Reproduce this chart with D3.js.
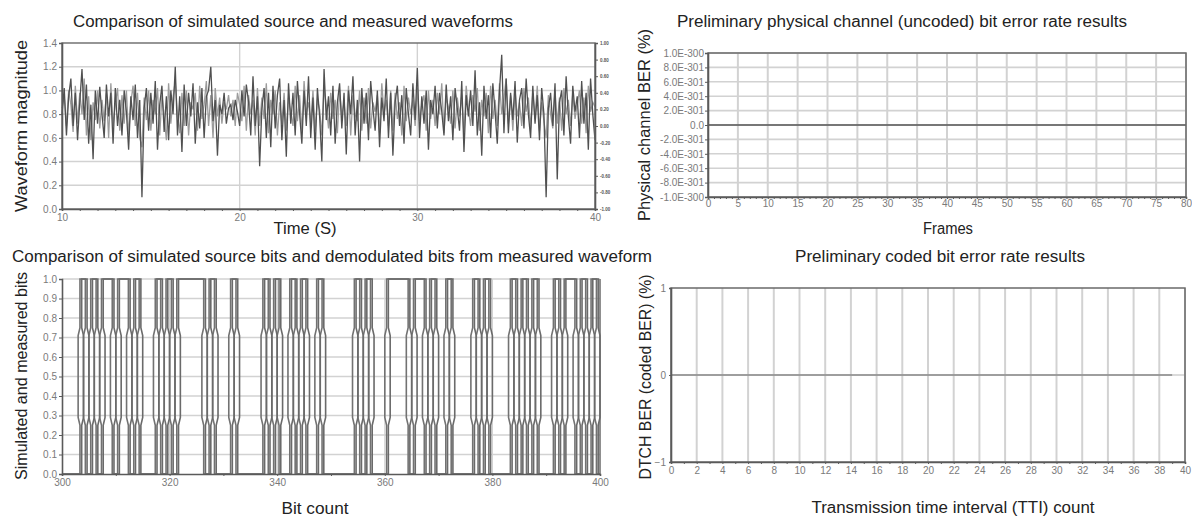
<!DOCTYPE html>
<html><head><meta charset="utf-8">
<script src="https://cdn.jsdelivr.net/npm/d3@7"></script>
<style>
body{margin:0;background:#fff;}
svg text{font-family:"Liberation Sans",Arial,sans-serif;}
</style></head><body><svg id="c" width="1192" height="519"></svg>
<script>
// ---------- data ----------
const waveStart = 10, waveStep = 0.125;
const measuredWave = [
0.80,1.02,0.62,0.95,1.10,0.70,0.98,0.58,
0.90,1.18,0.75,1.05,0.55,0.88,0.42,1.00,
0.72,1.03,0.80,0.60,1.05,0.78,0.98,0.55,
1.02,0.70,0.92,0.62,1.00,0.82,0.50,0.95,
0.75,1.05,0.60,0.92,0.10,0.85,1.02,0.66,
0.98,0.72,1.08,0.50,0.88,1.04,0.65,0.95,
0.58,1.00,0.80,1.20,0.62,0.95,0.48,1.05,
0.70,0.98,0.78,1.06,0.55,0.90,0.68,1.02,
0.60,0.95,1.00,1.20,0.74,0.92,0.45,0.88,
0.80,0.98,0.72,0.85,0.88,0.75,0.92,0.82,
0.70,1.00,0.78,1.05,0.90,0.62,1.12,0.70,
0.95,0.36,0.85,1.02,0.60,0.98,0.52,1.04,
0.68,0.96,1.10,0.58,0.92,0.44,1.06,0.72,
0.98,0.62,1.08,0.80,0.55,1.00,0.70,1.12,
0.60,0.94,0.50,1.02,0.78,0.40,1.18,0.75,
0.95,0.62,1.04,0.55,0.90,1.06,0.68,0.98,
0.46,1.00,0.80,1.12,0.62,0.92,0.40,1.02,
0.72,0.98,0.58,1.08,0.85,0.66,1.00,0.52,
0.94,0.74,1.10,0.60,0.98,0.45,0.90,1.04,
0.70,0.96,0.55,1.02,0.80,0.62,1.06,0.75,
1.19,0.60,0.95,0.72,1.00,0.50,0.92,0.80,
1.04,0.68,0.98,0.82,0.62,1.05,0.74,0.95,
0.58,1.02,0.85,0.66,1.08,0.48,0.96,0.78,
1.00,0.70,1.17,0.62,0.90,0.45,1.04,0.76,
0.96,0.60,1.06,0.82,0.55,1.00,1.30,0.64,
1.10,0.64,0.98,0.75,1.08,0.56,0.92,1.02,
0.68,1.10,0.80,0.60,1.04,0.72,0.96,0.58,
1.02,0.80,0.10,0.85,0.98,0.70,1.06,0.25,
0.90,1.00,0.62,1.12,0.78,0.55,1.04,0.82,
0.95,0.60,1.08,0.72,0.98,0.50,1.10,0.80,
0.58];
const simulatedWave = [
0.85,0.95,0.70,1.00,0.88,0.65,1.04,0.72,
0.98,0.80,1.10,0.62,0.95,0.58,0.90,0.75,
1.00,0.68,0.92,0.74,0.98,0.60,1.06,0.70,
0.88,1.02,0.66,0.96,0.72,1.00,0.62,0.90,
1.04,0.70,0.98,0.60,0.52,0.94,0.75,1.00,
0.66,0.92,0.80,1.02,0.62,0.96,0.78,0.58,
1.06,0.72,0.94,1.08,0.80,0.64,0.98,0.70,
1.00,0.62,0.90,0.84,0.98,0.66,1.04,0.76,
0.88,1.08,0.70,0.96,0.60,1.02,0.78,0.94,
0.72,0.90,0.84,0.96,0.78,0.92,0.70,0.98,
0.88,0.74,1.04,0.66,0.96,0.80,0.92,0.62,
1.02,0.70,0.94,0.76,1.06,0.64,0.92,0.80,
1.00,0.62,0.90,0.72,0.98,0.66,0.94,0.82,
0.70,1.04,0.74,0.96,0.64,1.08,0.80,0.90,
0.72,1.00,0.66,0.92,0.84,0.62,1.02,0.88,
0.68,0.98,0.76,0.92,0.64,1.00,0.78,0.90,
0.70,1.04,0.62,0.96,0.80,0.74,1.00,0.66,
0.94,0.72,1.02,0.68,0.90,0.82,0.96,0.64,
1.06,0.80,0.92,0.70,1.00,0.66,0.98,0.76,
0.90,0.62,1.04,0.74,0.94,0.80,0.92,0.70,
1.02,0.74,0.88,0.96,0.66,1.00,0.76,0.92,
0.70,0.98,0.80,1.06,0.64,0.94,0.86,0.72,
1.00,0.68,0.94,0.78,0.96,0.62,1.04,0.84,
0.70,0.96,0.82,1.02,0.66,0.92,0.78,0.98,
0.64,1.04,0.76,0.92,0.70,1.06,0.80,0.94,
1.10,0.72,0.96,0.66,1.00,0.78,0.90,0.70,
1.02,0.82,0.94,0.68,0.98,0.76,1.04,0.66,
0.90,0.74,0.60,0.96,0.80,0.68,1.00,0.72,
0.94,0.66,1.02,0.80,0.92,0.70,0.98,0.76,
0.88,1.00,0.72,0.94,0.64,1.04,0.82,0.90,
0.86];
const waveYTicks = [0,0.2,0.4,0.6,0.8,1.0,1.2,1.4];
const waveXTicks = [10,20,30,40];
const waveRightLabels = ["1.00","0.80","0.60","0.40","0.20","0.00","-0.20","-0.40","-0.60","-0.80","-1.00"];

const berFrames = [0,0,0,0,0,0,0,0,0,0,0,0,0,0,0,0,0,0,0,0,0,0,0,0,0,0,0,0,0,0,0,0,0,0,0,0,0,0,0,0,0,0,0,0,0,0,0,0,0,0,0,0,0,0,0,0,0,0,0,0,0,0,0,0,0,0,0,0,0,0,0,0,0,0,0,0,0,0,0,0,0];
const berYTicks = [1e-300,8e-301,6e-301,4e-301,2e-301,0,-2e-301,-4e-301,-6e-301,-8e-301,-1e-300];
const berYLabels = ["1.0E-300","8.0E-301","6.0E-301","4.0E-301","2.0E-301","0.0","-2.0E-301","-4.0E-301","-6.0E-301","-8.0E-301","-1.0E-300"];
const berXTicks = [0,5,10,15,20,25,30,35,40,45,50,55,60,65,70,75,80];

const bitStart = 300;
const sourceBits = [
0,0,0,0,1,0,1,0,1,1,
0,1,1,0,1,0,0,0,1,0,
1,0,1,1,1,1,1,0,1,0,
0,0,1,0,0,0,0,0,1,0,
1,0,0,1,0,1,0,0,1,0,
0,0,0,0,0,1,0,1,0,0,
0,1,1,1,1,0,1,1,0,1,
0,0,1,0,0,0,0,1,0,1,
0,0,0,0,1,0,1,0,1,0,
0,0,1,0,1,1,0,1,0,1,
0];
const demodBits = [
0,0,0,0,1,0,1,0,1,1,
0,1,1,0,1,0,0,0,1,0,
1,0,1,1,1,1,1,0,1,0,
0,0,1,0,0,0,0,0,1,0,
1,0,0,1,0,1,0,0,1,0,
0,0,0,0,0,1,0,1,0,0,
0,1,1,1,1,0,1,1,0,1,
0,0,1,0,0,0,0,1,0,1,
0,0,0,0,1,0,1,0,1,0,
0,0,1,0,1,1,0,1,0,1,
0];
const bitYTicks = [0,0.1,0.2,0.3,0.4,0.5,0.6,0.7,0.8,0.9,1.0];
const bitXTicks = [300,320,340,360,380,400];

const codedBER = [0,0,0,0,0,0,0,0,0,0,0,0,0,0,0,0,0,0,0,0,0,0,0,0,0,0,0,0,0,0,0,0,0,0,0,0,0,0,0,0];
const codedYTicks = [-1,0,1];
const codedXTicks = [0,2,4,6,8,10,12,14,16,18,20,22,24,26,28,30,32,34,36,38,40];

// ---------- drawing ----------
const svg = d3.select("#c");
const GRID = "#d2d2d2", AX = "#5a5a5a", TICKTXT = "#7a7a7a";

function styleAxis(g, fs){
  g.selectAll(".domain").attr("stroke", AX).attr("stroke-width", 1.6);
  g.selectAll(".tick line").attr("stroke", AX);
  g.selectAll(".tick text").attr("fill", TICKTXT).style("font-size", fs + "px").style("font-family", "'Liberation Sans',Arial,sans-serif");
}
function title(x, y, txt, len){
  svg.append("text").attr("x", x).attr("y", y).attr("text-anchor", "middle")
    .attr("textLength", len).attr("lengthAdjust", "spacingAndGlyphs")
    .style("font-size", "16px").attr("fill", "#222").text(txt);
}
function vlabel(x, cy, txt, len){
  svg.append("text").attr("transform", `translate(${x},${cy}) rotate(-90)`).attr("text-anchor", "middle")
    .attr("textLength", len).attr("lengthAdjust", "spacingAndGlyphs")
    .style("font-size", "16px").attr("fill", "#222").text(txt);
}
function xlabel(x, y, txt, len){
  svg.append("text").attr("x", x).attr("y", y).attr("text-anchor", "middle")
    .attr("textLength", len).attr("lengthAdjust", "spacingAndGlyphs")
    .style("font-size", "16px").attr("fill", "#222").text(txt);
}

// Panel 1: waveforms
{
  const x = d3.scaleLinear([10, 40], [62, 595]);
  const y = d3.scaleLinear([0, 1.4], [209, 43]);
  const g = svg.append("g");
  g.selectAll(".hg").data(waveYTicks.slice(1, -1)).join("line")
    .attr("x1", x(10)).attr("x2", x(40)).attr("y1", d => y(d)).attr("y2", d => y(d))
    .attr("stroke", GRID).attr("stroke-width", 1.4);
  g.selectAll(".vg").data(waveXTicks.slice(1, -1)).join("line")
    .attr("x1", d => x(d)).attr("x2", d => x(d)).attr("y1", y(0)).attr("y2", y(1.4))
    .attr("stroke", GRID).attr("stroke-width", 1.4);
  const line = d3.line().x((d, i) => x(waveStart + i * waveStep)).y(d => y(d));
  g.append("path").attr("d", line(simulatedWave)).attr("fill", "none").attr("stroke", "#9c9c9c").attr("stroke-width", 1.3);
  g.append("path").attr("d", line(measuredWave)).attr("fill", "none").attr("stroke", "#505050").attr("stroke-width", 1.3);
  g.append("rect").attr("x", x(10)).attr("y", y(1.4)).attr("width", x(40) - x(10)).attr("height", y(0) - y(1.4))
    .attr("fill", "none").attr("stroke", "#6a6a6a").attr("stroke-width", 1.4);
  const ya = g.append("g").attr("transform", `translate(${x(10)},0)`)
    .call(d3.axisLeft(y).tickValues(waveYTicks).tickFormat(d3.format(".1f")).tickSize(3).tickPadding(2));
  styleAxis(ya, 10);
  const minor = g.append("g").attr("transform", `translate(0,${y(0)})`)
    .call(d3.axisBottom(x).tickValues(d3.range(10, 41, 1)).tickSize(2).tickFormat(""));
  styleAxis(minor, 10);
  const xa = g.append("g").attr("transform", `translate(0,${y(0)})`)
    .call(d3.axisBottom(x).tickValues(waveXTicks).tickSize(0).tickPadding(5));
  styleAxis(xa, 10);
  xa.select(".domain").remove();
  const yr = d3.scalePoint(waveRightLabels, [y(1.4), y(0)]);
  const ra = g.append("g").attr("transform", `translate(${x(40)},0)`)
    .call(d3.axisRight(yr).tickSize(3).tickPadding(2));
  styleAxis(ra, 4.5);
  ra.selectAll(".tick text").attr("fill", "#555").style("font-weight", "bold");
  title(293, 27, "Comparison of simulated source and measured waveforms", 440);
  vlabel(27, 126, "Waveform magnitude", 172);
  xlabel(305, 234, "Time (S)", 63);
}

// Panel 2: uncoded BER
{
  const x = d3.scaleLinear([0, 80], [708, 1186]);
  const y = d3.scaleLinear([-1e-300, 1e-300], [197, 53]);
  const g = svg.append("g");
  g.selectAll(".hg").data(berYTicks).join("line")
    .attr("x1", x(0)).attr("x2", x(80)).attr("y1", d => y(d)).attr("y2", d => y(d))
    .attr("stroke", GRID).attr("stroke-width", 1.6);
  g.selectAll(".vg").data(berXTicks).join("line")
    .attr("x1", d => x(d)).attr("x2", d => x(d)).attr("y1", y(-1e-300)).attr("y2", y(1e-300))
    .attr("stroke", GRID).attr("stroke-width", 2);
  const line = d3.line().x((d, i) => x(i)).y(d => y(d));
  g.append("path").attr("d", line(berFrames)).attr("fill", "none").attr("stroke", "#555").attr("stroke-width", 1.5);
  g.append("rect").attr("x", x(0)).attr("y", y(1e-300)).attr("width", x(80) - x(0)).attr("height", y(-1e-300) - y(1e-300))
    .attr("fill", "none").attr("stroke", "#6a6a6a").attr("stroke-width", 1.5);
  const ya = g.append("g").attr("transform", `translate(${x(0)},0)`)
    .call(d3.axisLeft(y).tickValues(berYTicks).tickFormat((d, i) => berYLabels[i]).tickSize(3).tickPadding(1));
  styleAxis(ya, 10);
  const minor = g.append("g").attr("transform", `translate(0,${y(-1e-300)})`)
    .call(d3.axisBottom(x).tickValues(d3.range(0, 81, 1)).tickSize(2).tickFormat(""));
  styleAxis(minor, 10);
  const xa = g.append("g").attr("transform", `translate(0,${y(-1e-300)})`)
    .call(d3.axisBottom(x).tickValues(berXTicks).tickSize(0).tickPadding(3));
  styleAxis(xa, 10);
  xa.select(".domain").remove();
  title(902, 27, "Preliminary physical channel (uncoded) bit error rate results", 450);
  vlabel(650, 125, "Physical channel BER (%)", 192);
  xlabel(948, 234, "Frames", 50);
}

// Panel 3: bits
{
  const x = d3.scaleLinear([300, 400], [62, 600]);
  const y = d3.scaleLinear([0, 1], [474, 279]);
  const g = svg.append("g");
  g.selectAll(".hg").data(bitYTicks.slice(1)).join("line")
    .attr("x1", x(300)).attr("x2", x(400)).attr("y1", d => y(d)).attr("y2", d => y(d))
    .attr("stroke", GRID).attr("stroke-width", 1.5);
  g.selectAll(".vg").data(bitXTicks.slice(1, -1)).join("line")
    .attr("x1", d => x(d)).attr("x2", d => x(d)).attr("y1", y(0)).attr("y2", y(1))
    .attr("stroke", GRID).attr("stroke-width", 1.2);
  // each edge: narrow offset near the rails, wider offset between 0.25 and 0.75
  function pts(bits, side){
    const p = [[bitStart, bits[0]]];
    for (let i = 1; i < bits.length; i++){
      const a = bits[i - 1], b = bits[i];
      if (a === b) continue;
      const xb = bitStart + i - 0.5, L = t => a + (b - a) * t;
      const o1 = 0.16 * side, o2 = 0.5 * side;
      p.push([xb + o1, a], [xb + o1, L(0.25)], [xb + o2, L(0.29)], [xb + o2, L(0.71)], [xb + o1, L(0.75)], [xb + o1, b]);
    }
    p.push([bitStart + bits.length - 1, bits[bits.length - 1]]);
    return p.filter(d => d[0] <= 400);
  }
  const line = d3.line().x(d => x(d[0])).y(d => y(d[1]));
  g.append("path").attr("d", line(pts(sourceBits, -1))).attr("fill", "none").attr("stroke", "#727272").attr("stroke-width", 1.6);
  g.append("path").attr("d", line(pts(demodBits, 1))).attr("fill", "none").attr("stroke", "#6a6a6a").attr("stroke-width", 1.6);
  g.append("line").attr("x1", x(400)).attr("x2", x(400)).attr("y1", y(0)).attr("y2", y(1)).attr("stroke", "#6a6a6a").attr("stroke-width", 1.5);
  const ya = g.append("g").attr("transform", `translate(${x(300)},0)`)
    .call(d3.axisLeft(y).tickValues(bitYTicks).tickFormat(d3.format(".1f")).tickSize(3).tickPadding(2));
  styleAxis(ya, 10);
  const minor = g.append("g").attr("transform", `translate(0,${y(0)})`)
    .call(d3.axisBottom(x).tickValues(d3.range(300, 401, 10)).tickSize(2).tickFormat(""));
  styleAxis(minor, 10);
  const xa = g.append("g").attr("transform", `translate(0,${y(0)})`)
    .call(d3.axisBottom(x).tickValues(bitXTicks).tickSize(0).tickPadding(5));
  styleAxis(xa, 10);
  xa.select(".domain").remove();
  title(332, 262, "Comparison of simulated source bits and demodulated bits from measured waveform", 640);
  vlabel(27, 376, "Simulated and measured bits", 208);
  xlabel(315, 514, "Bit count", 67);
}

// Panel 4: coded BER
{
  const x = d3.scaleLinear([0, 40], [671, 1185]);
  const y = d3.scaleLinear([-1, 1], [462, 288]);
  const g = svg.append("g");
  g.selectAll(".vg").data(codedXTicks).join("line")
    .attr("x1", d => x(d)).attr("x2", d => x(d)).attr("y1", y(-1)).attr("y2", y(1))
    .attr("stroke", GRID).attr("stroke-width", 2);
  g.append("line").attr("x1", x(0)).attr("x2", x(40)).attr("y1", y(0)).attr("y2", y(0)).attr("stroke", "#cfcfcf").attr("stroke-width", 1.5);
  const line = d3.line().x((d, i) => x(i)).y(d => y(d));
  g.append("path").attr("d", line(codedBER)).attr("fill", "none").attr("stroke", "#8a8a8a").attr("stroke-width", 1.5);
  g.append("rect").attr("x", x(0)).attr("y", y(1)).attr("width", x(40) - x(0)).attr("height", y(-1) - y(1))
    .attr("fill", "none").attr("stroke", "#6a6a6a").attr("stroke-width", 1.5);
  const ya = g.append("g").attr("transform", `translate(${x(0)},0)`)
    .call(d3.axisLeft(y).tickValues(codedYTicks).tickFormat(d3.format("d")).tickSize(2).tickPadding(3));
  styleAxis(ya, 10);
  const minor = g.append("g").attr("transform", `translate(0,${y(-1)})`)
    .call(d3.axisBottom(x).tickValues(d3.range(0, 41, 1)).tickSize(2).tickFormat(""));
  styleAxis(minor, 10);
  const xa = g.append("g").attr("transform", `translate(0,${y(-1)})`)
    .call(d3.axisBottom(x).tickValues(codedXTicks).tickSize(0).tickPadding(5));
  styleAxis(xa, 10);
  xa.select(".domain").remove();
  title(940, 262, "Preliminary coded bit error rate results", 290);
  vlabel(651, 377, "DTCH BER (coded BER) (%)", 205);
  xlabel(953, 513, "Transmission time interval (TTI) count", 283);
}
</script></body></html>
